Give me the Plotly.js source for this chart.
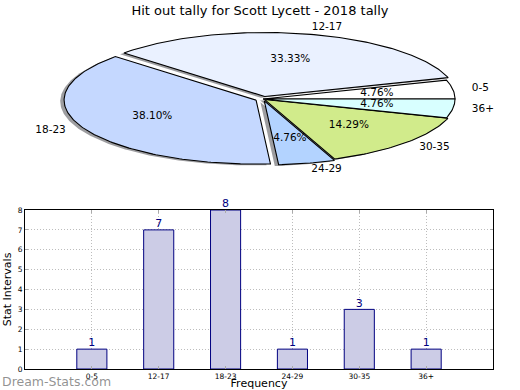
<!DOCTYPE html>
<html>
<head>
<meta charset="utf-8">
<script src="https://cdn.plot.ly/plotly-3.0.1.min.js"></script>
<style>
  html, body { margin: 0; padding: 0; background: #ffffff; }
  #chart { width: 520px; height: 390px; }
</style>
</head>
<body>
<div id="chart"></div>
<script>
// ---- data ----
const chartTitle = 'Hit out tally for Scott Lycett - 2018 tally';
const categories = ['0-5', '12-17', '18-23', '24-29', '30-35', '36+'];
const values = [1, 7, 8, 1, 3, 1];
const xAxisTitle = 'Frequency';
const yAxisTitle = 'Stat Intervals';
const yTickValues = [0, 1, 2, 3, 4, 5, 6, 7, 8];
const watermark = 'Dream-Stats.com';

// ---- style ----
const sliceColors = ['#ffffff', '#eaf1ff', '#c5d8ff', '#b3d3ff', '#d1eb8b', '#d8ffff'];
const sliceExplode = [0.0, 0.04, 0.04, 0.03, 0.01, 0.0];
const FONT = 'DejaVu Sans, Verdana, sans-serif';
const NAVY = '#000080';

// ---- pie geometry (unit circle on a stretched axis, like the original) ----
const total = values.reduce((a, b) => a + b, 0);
const traces = [];
const shadowTraces = [];
const wedgeTraces = [];
const labelX = [], labelY = [], labelPos = [];
const pctX = [], pctY = [], pctText = [];
let cum = 0;
values.forEach((v, i) => {
  const t1 = cum / total * 2 * Math.PI;
  const t2 = (cum + v) / total * 2 * Math.PI;
  cum += v;
  const mid = (t1 + t2) / 2;
  const ox = sliceExplode[i] * Math.cos(mid);
  const oy = sliceExplode[i] * Math.sin(mid);
  const xs = [ox], ys = [oy];
  const n = Math.max(4, Math.ceil((t2 - t1) / (Math.PI / 180)));
  for (let k = 0; k <= n; k++) {
    const t = t1 + (t2 - t1) * k / n;
    xs.push(ox + Math.cos(t));
    ys.push(oy + Math.sin(t));
  }
  xs.push(ox); ys.push(oy);
  shadowTraces.push({
    type: 'scatter', mode: 'lines', xaxis: 'x', yaxis: 'y',
    x: xs.map(q => q - 0.02), y: ys.map(q => q - 0.02),
    fill: 'toself', fillcolor: 'rgba(60,60,65,0.5)',
    line: { width: 0, color: 'rgba(0,0,0,0)' }, hoverinfo: 'skip'
  });
  wedgeTraces.push({
    type: 'scatter', mode: 'lines', xaxis: 'x', yaxis: 'y',
    x: xs, y: ys, fill: 'toself', fillcolor: sliceColors[i],
    line: { width: 1.1, color: '#000000' }, name: categories[i],
    hoverinfo: 'name'
  });
  const lx = ox + 1.1 * Math.cos(mid);
  const ly = oy + 1.1 * Math.sin(mid);
  labelX.push(lx); labelY.push(ly);
  labelPos.push(lx > 0 ? 'middle right' : 'middle left');
  pctX.push(ox + 0.6 * Math.cos(mid));
  pctY.push(oy + 0.6 * Math.sin(mid));
  pctText.push((v / total * 100).toFixed(2) + '%');
});
traces.push(...shadowTraces, ...wedgeTraces);
traces.push({
  type: 'scatter', mode: 'text', xaxis: 'x', yaxis: 'y',
  x: labelX, y: labelY, text: categories, textposition: labelPos,
  textfont: { family: FONT, size: 10.5, color: '#000000' },
  hoverinfo: 'skip', cliponaxis: false
});
traces.push({
  type: 'scatter', mode: 'text', xaxis: 'x', yaxis: 'y',
  x: pctX, y: pctY, text: pctText, textposition: 'middle center',
  textfont: { family: FONT, size: 10.5, color: '#000000' },
  hoverinfo: 'skip', cliponaxis: false
});

// ---- bar chart ----
traces.push({
  type: 'bar', xaxis: 'x2', yaxis: 'y2',
  x: categories, y: values, width: 0.45,
  marker: { color: '#ccccE6', line: { color: NAVY, width: 1 } },
  hoverinfo: 'x+y'
});
traces.push({
  type: 'scatter', mode: 'text', xaxis: 'x2', yaxis: 'y2',
  x: categories, y: values, text: values.map(String),
  textposition: 'top center',
  textfont: { family: FONT, size: 11, color: NAVY },
  hoverinfo: 'skip', cliponaxis: false
});

const W = 520, H = 390;
const cxPx = 263, cyPx = 99, rxPx = 192, ryPx = 64;
const pieTopPx = 0, pieBotPx = 195;

const layout = {
  width: W, height: H,
  margin: { l: 0, r: 0, t: 0, b: 0, pad: 0 },
  paper_bgcolor: '#ffffff', plot_bgcolor: 'rgba(0,0,0,0)',
  showlegend: false,
  font: { family: FONT, size: 10, color: '#000000' },
  title: {
    text: chartTitle, x: 0.5, xanchor: 'center',
    y: 1 - 10 / H, yanchor: 'middle', yref: 'container',
    font: { family: FONT, size: 13, color: '#000000' }
  },
  xaxis: {
    domain: [0, 1], range: [-cxPx / rxPx, (W - cxPx) / rxPx],
    visible: false, fixedrange: true
  },
  yaxis: {
    domain: [1 - pieBotPx / H, 1 - pieTopPx / H],
    range: [-(pieBotPx - cyPx) / ryPx, (cyPx - pieTopPx) / ryPx],
    visible: false, fixedrange: true
  },
  xaxis2: {
    anchor: 'y2', type: 'category',
    domain: [25 / W, 493 / W], range: [-1, 6],
    showline: true, linecolor: '#000000', linewidth: 1, mirror: 'ticks',
    ticks: 'inside', ticklen: 3, tickcolor: '#aaaaaa',
    showgrid: true, gridcolor: '#bdbdbd', griddash: '1px,2px', gridwidth: 1,
    tickfont: { family: FONT, size: 7.5, color: '#000000' },
    zeroline: false, fixedrange: true,
    title: { text: xAxisTitle, standoff: 9, font: { family: FONT, size: 11, color: '#000000' } }
  },
  yaxis2: {
    anchor: 'x2',
    domain: [1 - 369 / H, 1 - 210 / H], range: [0, 8],
    tickvals: yTickValues,
    showline: true, linecolor: '#000000', linewidth: 1, mirror: 'ticks',
    ticks: 'inside', ticklen: 3, tickcolor: '#aaaaaa',
    showgrid: true, gridcolor: '#bdbdbd', griddash: '1px,2px', gridwidth: 1,
    tickfont: { family: FONT, size: 7.5, color: '#000000' },
    zeroline: false, fixedrange: true,
    title: { text: yAxisTitle, standoff: 3, font: { family: FONT, size: 11, color: '#000000' } }
  },
  annotations: [{
    text: watermark, xref: 'paper', yref: 'paper',
    x: 0, xanchor: 'left', y: 1 - 381 / H, yanchor: 'middle',
    showarrow: false,
    font: { family: FONT, size: 12.5, color: 'rgba(110,110,110,0.75)' }
  }]
};

Plotly.newPlot('chart', traces, layout, { displayModeBar: false, staticPlot: true });
</script>
</body>
</html>
